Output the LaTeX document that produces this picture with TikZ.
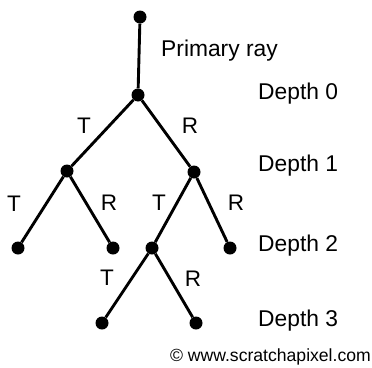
\documentclass[tikz,border=0pt]{standalone}
\usepackage{fontspec}
\setmainfont{Liberation Sans}
\begin{document}
\begin{tikzpicture}[x=1pt,y=-1pt,
  dot/.style={circle,fill=black,inner sep=0pt,minimum size=13pt},
  edge/.style={line width=2.9pt},
  lab/.style={anchor=base,inner sep=0pt,font=\fontsize{22.5}{26}\selectfont},
  depthlab/.style={anchor=base west,inner sep=0pt,font=\fontsize{22.8}{26}\selectfont}]
\useasboundingbox (0,0) rectangle (372,367);
\node[dot] (top) at (140,17) {};
\node[dot] (root) at (138,95) {};
\node[dot] (l1) at (67,171) {};
\node[dot] (r1) at (194,172) {};
\node[dot] (ll2) at (18,248) {};
\node[dot] (lr2) at (113,248) {};
\node[dot] (rl2) at (152,248) {};
\node[dot] (rr2) at (230,248) {};
\node[dot] (rll3) at (102,323) {};
\node[dot] (rlr3) at (196,323) {};
\draw[edge] (top) -- (root);
\draw[edge] (root) -- (l1);
\draw[edge] (root) -- (r1);
\draw[edge] (l1) -- (ll2);
\draw[edge] (l1) -- (lr2);
\draw[edge] (r1) -- (rl2);
\draw[edge] (r1) -- (rr2);
\draw[edge] (rl2) -- (rll3);
\draw[edge] (rl2) -- (rlr3);
\node[depthlab] (pr) at (161,56) {Primary ray};
\node[depthlab] (d0) at (258,99) {Depth 0};
\node[depthlab] (d1) at (258,171.5) {Depth 1};
\node[depthlab] (d2) at (258,251) {Depth 2};
\node[depthlab] (d3) at (258,326.5) {Depth 3};
\node[lab] (t0) at (84,133) {T};
\node[lab] (r0) at (190,133) {R};
\node[lab] (t1) at (14,211) {T};
\node[lab] (r1l) at (109,210) {R};
\node[lab] (t2) at (159,210) {T};
\node[lab] (r2) at (236,210) {R};
\node[lab] (t3) at (107,285) {T};
\node[lab] (r3) at (193,286) {R};
\node[anchor=base east,inner sep=0pt,font=\fontsize{17.6}{20}\selectfont] (cp) at (371,361) {© www.scratchapixel.com};
\end{tikzpicture}
\end{document}
